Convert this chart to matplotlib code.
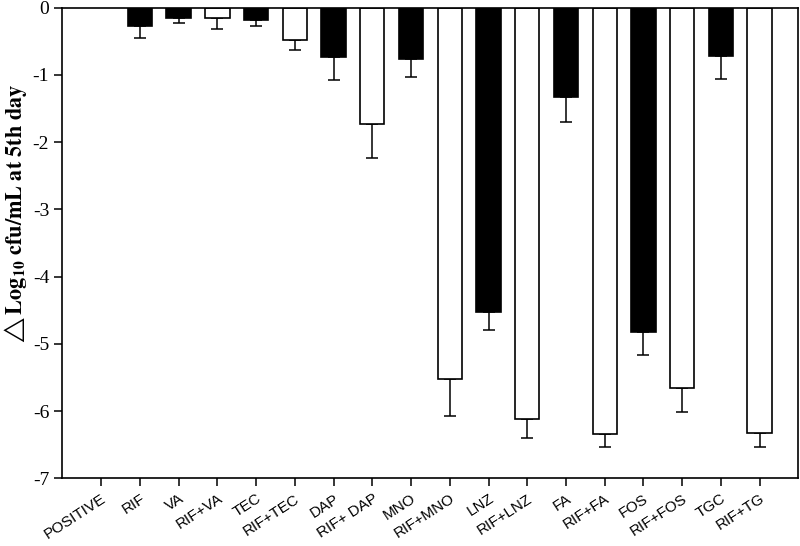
import numpy as np
import matplotlib.pyplot as plt

plt.rcParams['axes.unicode_minus'] = False
plt.rcParams['mathtext.fontset'] = 'stix'

# treatments, mean change (log10 cfu/mL) and lower error
labels = ['POSITIVE', 'RIF', 'VA', 'RIF+VA', 'TEC', 'RIF+TEC', 'DAP', 'RIF+ DAP',
          'MNO', 'RIF+MNO', 'LNZ', 'RIF+LNZ', 'FA', 'RIF+FA', 'FOS', 'RIF+FOS',
          'TGC', 'RIF+TG']
values = [0.0, -0.27, -0.16, -0.16, -0.19, -0.48, -0.73, -1.73,
          -0.77, -5.52, -4.53, -6.12, -1.33, -6.34, -4.82, -5.66,
          -0.72, -6.33]
errors = [0.0, 0.18, 0.07, 0.16, 0.08, 0.15, 0.34, 0.5,
          0.26, 0.56, 0.27, 0.28, 0.37, 0.2, 0.35, 0.36,
          0.34, 0.2]
combo = [False, False, False, True, False, True, False, True,
         False, True, False, True, False, True, False, True,
         False, True]

x = np.arange(len(labels))
colors = ['white' if c else 'black' for c in combo]

fig = plt.figure(figsize=(8, 5.46), dpi=100)
ax = fig.add_axes([0.078, 0.124, 0.92, 0.862])

ax.bar(x[1:], values[1:], width=0.63, color=colors[1:], edgecolor='black',
       linewidth=1.2, zorder=2)
lower = np.array(errors)
ax.errorbar(x[1:], values[1:], yerr=[lower[1:], np.zeros(len(x) - 1)],
            fmt='none', ecolor='black', elinewidth=1.1, capsize=4.3,
            capthick=1.1, zorder=1)

ax.set_xlim(-1, 18)
ax.set_ylim(-7, 0)
ax.set_yticks(range(-7, 1))
ax.set_yticklabels([str(v) for v in range(-7, 1)], family='Liberation Serif',
                   fontsize=14)
ax.set_xticks(x)
ax.set_xticklabels(labels, rotation=33, ha='right', rotation_mode='anchor',
                   family='Liberation Sans', fontsize=11)
ax.tick_params(direction='out', length=6, width=1.1)
for s in ax.spines.values():
    s.set_linewidth(1.2)

ax.set_ylabel(r'$\triangle\mathbf{Log_{10}\ cfu/mL\ at\ 5th\ day}$',
              fontsize=16)
ax.yaxis.set_label_coords(-0.046, 0.56)

fig.savefig('out.png')
